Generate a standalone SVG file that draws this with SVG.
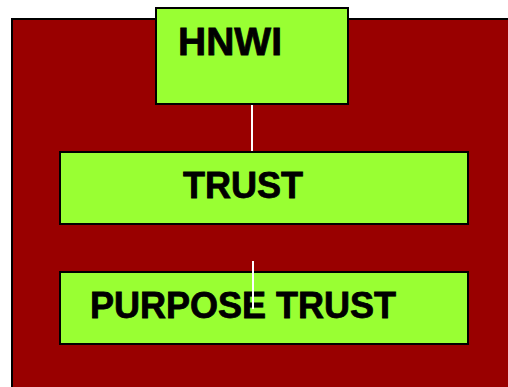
<svg xmlns="http://www.w3.org/2000/svg" width="508" height="387" viewBox="0 0 508 387">
<style>
.bg{fill:#990000;stroke:#000;stroke-width:2}
.box{fill:#99FF33;stroke:#000;stroke-width:2}
.lbl{font-family:"Liberation Sans",Arial,sans-serif;font-weight:bold;font-size:36px;fill:#000;stroke:#000;stroke-width:0.8}
.conn{stroke:#fff;stroke-width:2;fill:none}
</style>
<rect class="bg" x="12" y="19" width="510" height="380"/>
<g id="hnwi">
<rect class="box" x="156" y="8" width="192" height="96"/>
<text class="lbl" x="178" y="55" style="font-size:39px">HNWI</text>
</g>
<g id="trust">
<rect class="box" x="60" y="152" width="408" height="72"/>
<text class="lbl" x="183" y="198">TRUST</text>
</g>
<g id="purpose-trust">
<rect class="box" x="60" y="272" width="408" height="72"/>
<text class="lbl" x="90" y="318">PURPOSE TRUST</text>
</g>
<g id="connectors">
<line class="conn" x1="252" y1="105" x2="252" y2="151"/>
<line class="conn" x1="253" y1="261" x2="253" y2="309"/>
</g>
</svg>
